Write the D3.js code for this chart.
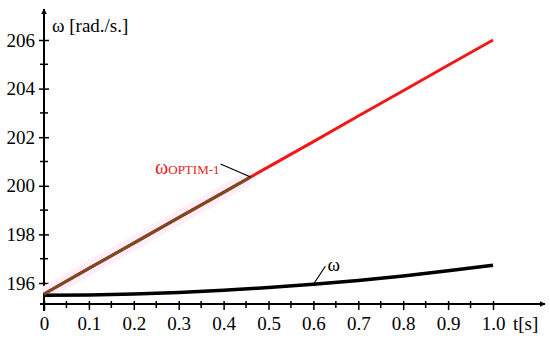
<!DOCTYPE html>
<html>
<head>
<meta charset="utf-8">
<script src="https://cdn.jsdelivr.net/npm/d3@7"></script>
<style>
  body { margin: 0; background: #fff; }
  svg text { font-family: "Liberation Serif", "Times New Roman", "DejaVu Serif", serif !important; }
</style>
</head>
<body>
<div id="chart"></div>
<script>
// time samples [s]
const tValues = [0, 0.1, 0.2, 0.3, 0.4, 0.5, 0.6, 0.7, 0.8, 0.9, 1.0];
// optimal speed (red line)
const omegaOptim = [195.55, 196.6, 197.64, 198.69, 199.73, 200.78, 201.82, 202.87, 203.91, 204.96, 206.0];
// actual speed (black line)
const omega = [195.5, 195.51, 195.55, 195.61, 195.7, 195.81, 195.95, 196.1, 196.29, 196.5, 196.73];
// part of the optimal curve drawn in brown (overlap)
const overlapEnd = 0.46;

const xTicks = [0, 0.1, 0.2, 0.3, 0.4, 0.5, 0.6, 0.7, 0.8, 0.9, 1.0];
const xMinorTicks = [0.05, 0.15, 0.25, 0.35, 0.45, 0.55, 0.65, 0.75, 0.85, 0.95];
const yTicks = [196, 198, 200, 202, 204, 206];
const yMinorTicks = [197, 199, 201, 203, 205];

const width = 550, height = 340;

const x = d3.scaleLinear().domain([0, 1]).range([44, 493]);
const y = d3.scaleLinear().domain([196, 206]).range([283, 40]);
const axisY = 304; // pixel row of the time axis
const axisX = x(0);

const svg = d3.select('#chart').append('svg')
    .attr('width', width)
    .attr('height', height);

svg.append('defs').append('marker')
    .attr('id', 'arrow')
    .attr('viewBox', '0 0 10 10')
    .attr('refX', 9).attr('refY', 5)
    .attr('markerWidth', 6).attr('markerHeight', 6)
    .attr('markerUnits', 'userSpaceOnUse')
    .attr('orient', 'auto')
  .append('path')
    .attr('d', 'M0,0 L10,5 L0,10 z')
    .attr('fill', '#000');

svg.select('defs').append('clipPath')
    .attr('id', 'overlap-clip')
  .append('rect')
    .attr('x', 0).attr('y', 0)
    .attr('width', x(overlapEnd))
    .attr('height', height);

// axes lines with arrows
svg.append('line')
    .attr('x1', 40).attr('y1', axisY)
    .attr('x2', 545).attr('y2', axisY)
    .attr('stroke', '#000').attr('stroke-width', 2)
    .attr('marker-end', 'url(#arrow)');
svg.append('line')
    .attr('x1', axisX).attr('y1', 311)
    .attr('x2', axisX).attr('y2', 9)
    .attr('stroke', '#000').attr('stroke-width', 2)
    .attr('marker-end', 'url(#arrow)');

// x axis ticks
const xAxis = d3.axisBottom(x)
    .tickValues(xTicks)
    .tickSize(6)
    .tickPadding(7)
    .tickFormat(d => d === 0 ? '0' : d3.format('.1f')(d));
const xAxisG = svg.append('g')
    .attr('transform', `translate(0,${axisY})`)
    .call(xAxis);
xAxisG.select('.domain').remove();
xAxisG.selectAll('.tick line').attr('y1', -3).attr('stroke-width', 1.5);
xAxisG.selectAll('.tick text')
    .attr('font-size', 19).attr('fill', '#000');

svg.append('g').selectAll('line')
    .data(xMinorTicks)
  .join('line')
    .attr('x1', d => x(d)).attr('x2', d => x(d))
    .attr('y1', axisY - 3).attr('y2', axisY + 4)
    .attr('stroke', '#000').attr('stroke-width', 1.5);

// y axis ticks
const yAxis = d3.axisLeft(y)
    .tickValues(yTicks)
    .tickSize(5)
    .tickPadding(4)
    .tickFormat(d3.format('d'));
const yAxisG = svg.append('g')
    .attr('transform', `translate(${axisX},0)`)
    .call(yAxis);
yAxisG.select('.domain').remove();
yAxisG.selectAll('.tick line').attr('x1', 5).attr('stroke-width', 1.5);
yAxisG.selectAll('.tick text')
    .attr('font-size', 19).attr('fill', '#000')
    .attr('dy', '0.32em');

svg.append('g').selectAll('line')
    .data(yMinorTicks)
  .join('line')
    .attr('x1', axisX - 4).attr('x2', axisX + 4)
    .attr('y1', d => y(d)).attr('y2', d => y(d))
    .attr('stroke', '#000').attr('stroke-width', 1.5);

// axis titles
svg.append('text')
    .attr('x', 52).attr('y', 32)
    .attr('font-size', 19)
    .text('ω [rad./s.]');
svg.append('text')
    .attr('x', 513).attr('y', 330)
    .attr('font-size', 19)
    .text('t[s]');

const line = d3.line()
    .x((d, i) => x(tValues[i]))
    .y(d => y(d));

// pale halo behind overlap part
svg.append('path')
    .datum(omegaOptim)
    .attr('d', line)
    .attr('clip-path', 'url(#overlap-clip)')
    .attr('fill', 'none')
    .attr('stroke', '#fdeefa')
    .attr('stroke-width', 14);

// actual speed
svg.append('path')
    .datum(omega)
    .attr('d', line)
    .attr('fill', 'none')
    .attr('stroke', '#000')
    .attr('stroke-width', 3.5);

// optimal speed
svg.append('path')
    .datum(omegaOptim)
    .attr('d', line)
    .attr('fill', 'none')
    .attr('stroke', '#f01818')
    .attr('stroke-width', 3);

svg.append('path')
    .datum(omegaOptim)
    .attr('d', line)
    .attr('clip-path', 'url(#overlap-clip)')
    .attr('fill', 'none')
    .attr('stroke', '#7b4a20')
    .attr('stroke-width', 3);

// annotation: optimal
const optimAnchor = [x(overlapEnd), y(d3.scaleLinear().domain(tValues).range(omegaOptim)(overlapEnd))];
svg.append('line')
    .attr('x1', optimAnchor[0]).attr('y1', optimAnchor[1])
    .attr('x2', optimAnchor[0] - 30).attr('y2', optimAnchor[1] - 13)
    .attr('stroke', '#000').attr('stroke-width', 1.2);
const optimLabel = svg.append('text')
    .attr('x', optimAnchor[0] - 31).attr('y', optimAnchor[1] - 3)
    .attr('text-anchor', 'end')
    .attr('fill', '#e8202a');
optimLabel.append('tspan').attr('font-size', 20).text('ω');
optimLabel.append('tspan').attr('font-size', 13).text('OPTIM-1');

// annotation: actual
const omegaAnchor = [x(0.6), y(omega[6])];
svg.append('line')
    .attr('x1', omegaAnchor[0]).attr('y1', omegaAnchor[1])
    .attr('x2', omegaAnchor[0] + 12).attr('y2', omegaAnchor[1] - 18)
    .attr('stroke', '#000').attr('stroke-width', 1.2);
svg.append('text')
    .attr('x', omegaAnchor[0] + 14).attr('y', omegaAnchor[1] - 13)
    .attr('font-size', 19)
    .text('ω');
</script>
</body>
</html>
